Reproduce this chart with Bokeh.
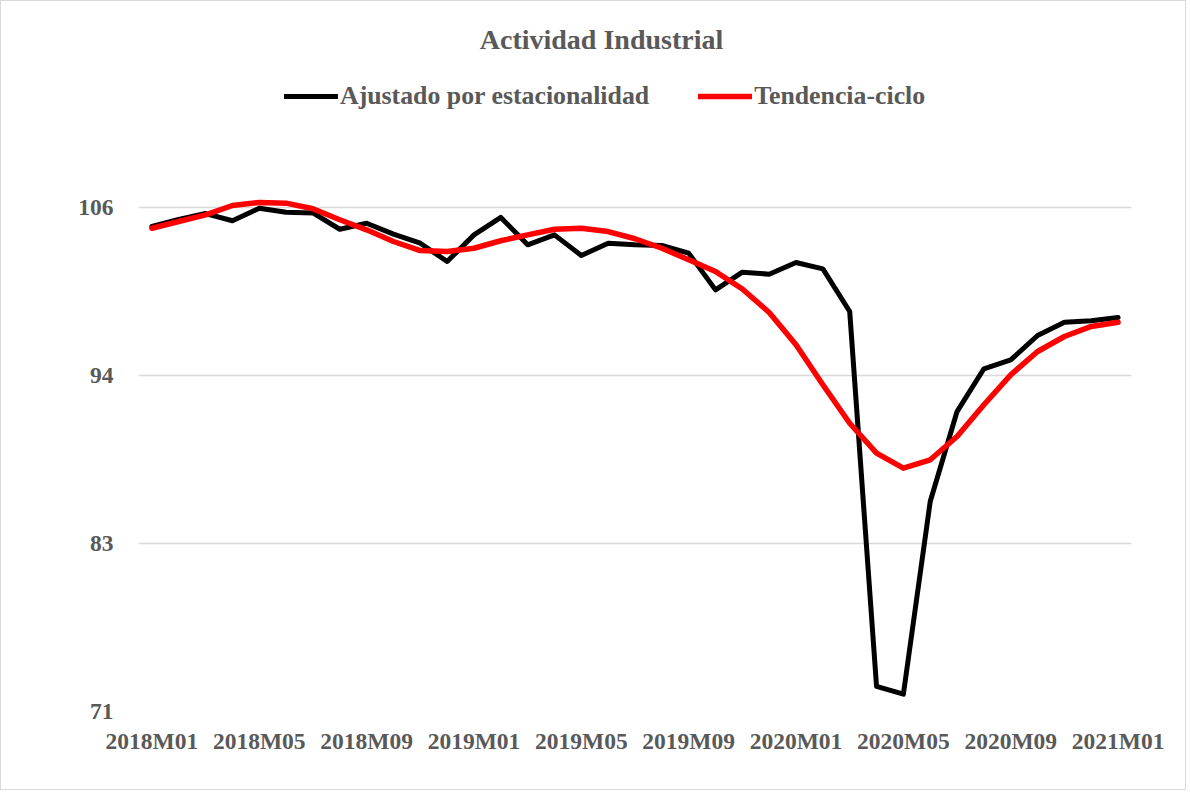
from bokeh.plotting import figure
from bokeh.models import (ColumnDataSource, Range1d, FixedTicker,
                          CustomJSTickFormatter, Legend, LegendItem, Label)
from bokeh.embed import file_html
from bokeh.resources import INLINE

months = [
    "2018M01", "2018M02", "2018M03", "2018M04", "2018M05", "2018M06",
    "2018M07", "2018M08", "2018M09", "2018M10", "2018M11", "2018M12",
    "2019M01", "2019M02", "2019M03", "2019M04", "2019M05", "2019M06",
    "2019M07", "2019M08", "2019M09", "2019M10", "2019M11", "2019M12",
    "2020M01", "2020M02", "2020M03", "2020M04", "2020M05", "2020M06",
    "2020M07", "2020M08", "2020M09", "2020M10", "2020M11", "2020M12",
    "2021M01",
]
label_step = 4

ajustado = [104.68, 105.17, 105.58, 105.08, 105.95, 105.67, 105.62, 104.49,
            104.91, 104.15, 103.52, 102.25, 104.10, 105.31, 103.41, 104.10,
            102.67, 103.52, 103.41, 103.36, 102.83, 100.28, 101.51, 101.37,
            102.18, 101.74, 98.78, 72.74, 72.20, 85.58, 91.83, 94.80,
            95.42, 97.11, 98.03, 98.13, 98.36]
tendencia = [104.56, 105.03, 105.49, 106.14, 106.35, 106.30, 105.91, 105.15,
             104.45, 103.64, 103.01, 102.94, 103.17, 103.69, 104.10, 104.49,
             104.56, 104.33, 103.83, 103.17, 102.37, 101.56, 100.34, 98.71,
             96.47, 93.69, 91.02, 88.94, 87.90, 88.48, 90.10, 92.30,
             94.38, 96.00, 97.04, 97.74, 98.03]

y_ticks = [71, 71 + 35 / 3, 71 + 70 / 3, 106]

title_text = "Actividad Industrial"
series_names = ["Ajustado por estacionalidad", "Tendencia-ciclo"]

TEXT = "#595959"
FONT = "Liberation Serif"

idx = list(range(len(months)))
src = ColumnDataSource(dict(x=idx, m=months, a=ajustado, t=tendencia))

p = figure(width=1186, height=790, output_backend="svg", toolbar_location=None,
           x_range=Range1d(-0.5, len(months) - 0.5),
           y_range=Range1d(71, 71 + 702 / 14.4), title=None,
           min_border_left=137, min_border_right=56,
           min_border_top=8, min_border_bottom=80)
p.styles = {"border": "1px solid #d9d9d9"}
p.outline_line_color = None
p.background_fill_color = "white"
p.border_fill_color = "white"

r1 = p.line("x", "a", source=src, line_color="black", line_width=5,
            line_join="round", line_cap="round")
r2 = p.line("x", "t", source=src, line_color="#ff0000", line_width=5.5,
            line_join="round", line_cap="round")

# axes
p.xgrid.grid_line_color = None
p.ygrid.grid_line_color = "#d9d9d9"
p.ygrid.grid_line_width = 1.5
p.ygrid.ticker = FixedTicker(ticks=y_ticks)

ya = p.yaxis[0]
ya.ticker = FixedTicker(ticks=y_ticks)
ya.formatter = CustomJSTickFormatter(code="return Math.round(tick).toString()")
ya.axis_line_color = None
ya.major_tick_line_color = None
ya.minor_tick_line_color = None
ya.major_label_text_font = FONT
ya.major_label_text_font_style = "bold"
ya.major_label_text_font_size = "23.5px"
ya.major_label_text_color = TEXT
ya.major_label_standoff = 19

xa = p.xaxis[0]
xa.ticker = FixedTicker(ticks=idx[::label_step])
xa.formatter = CustomJSTickFormatter(args=dict(labels=months),
                                     code="return labels[Math.round(tick)]")
xa.axis_line_color = None
xa.major_tick_line_color = None
xa.minor_tick_line_color = None
xa.major_label_text_font = FONT
xa.major_label_text_font_style = "bold"
xa.major_label_text_font_size = "23.5px"
xa.major_label_text_color = TEXT
xa.major_label_standoff = 10

# title (inside the tall frame, above the data area)
title = Label(x=463, y=672, x_units="screen", y_units="screen", text=title_text,
              text_align="center", text_baseline="alphabetic",
              text_font=FONT, text_font_style="bold", text_font_size="28px",
              text_color=TEXT)
p.add_layout(title)

legend = Legend(items=[LegendItem(label=series_names[0], renderers=[r1]),
                       LegendItem(label=series_names[1], renderers=[r2])],
                orientation="horizontal", location=(146, 600),
                glyph_width=54, glyph_height=20, label_standoff=2, spacing=49,
                padding=0, margin=0, border_line_color=None,
                background_fill_alpha=0,
                label_text_font=FONT, label_text_font_style="bold",
                label_text_font_size="25.8px", label_text_color=TEXT)
p.add_layout(legend, "center")

open("out.html", "w").write(file_html(p, INLINE))
